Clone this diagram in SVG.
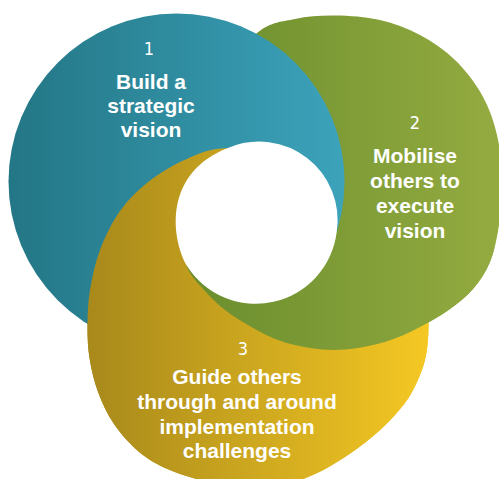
<svg xmlns="http://www.w3.org/2000/svg" xmlns:xlink="http://www.w3.org/1999/xlink" width="499" height="479" viewBox="0 0 499 479">
  <style>
    .label { font-family: "Liberation Sans", Arial, sans-serif; font-weight: bold; font-size: 21px; fill: #ffffff; text-anchor: middle; }
    .num { font-family: "DejaVu Sans Condensed", "DejaVu Sans", sans-serif; font-size: 18px; fill: #ffffff; text-anchor: middle; }
    .blue { fill: url(#fill-blue); }
    .green { fill: url(#fill-green); }
    .gold { fill: url(#fill-gold); }
  </style>
  <defs>
    <linearGradient id="fill-blue" gradientUnits="userSpaceOnUse" x1="8" y1="0" x2="345" y2="0">
      <stop offset="0" stop-color="#237685"/>
      <stop offset="1" stop-color="#3ca3bb"/>
    </linearGradient>
    <linearGradient id="fill-green" gradientUnits="userSpaceOnUse" x1="180" y1="0" x2="500" y2="0">
      <stop offset="0" stop-color="#698d2d"/>
      <stop offset="1" stop-color="#94ab40"/>
    </linearGradient>
    <linearGradient id="fill-gold" gradientUnits="userSpaceOnUse" x1="88" y1="0" x2="430" y2="0">
      <stop offset="0" stop-color="#a8891b"/>
      <stop offset="1" stop-color="#f5c823"/>
    </linearGradient>

    <!-- outer outlines of the three rings -->
    <circle id="ring-blue" cx="176.5" cy="181.5" r="168"/>
    <path id="ring-green" d="M257,33 C272,21.17 282,21.92 295,19 S320.83,15.33 335,15.5 S365.83,16.75 380,20 S407.5,28.33 420,35 S444.67,50 455,60 S475,82.5 482,95 S493.67,120.83 497,135 S501.67,165 502,180 S501,211.33 499,225 S494.33,251.33 490,262 S479.67,281.17 473,289 S458.83,302.67 450,309 S430.83,321.5 420,327 S397.5,338.25 385,342 S357.5,348.5 345,349.5 S321.17,349.58 310,348 S288.33,343.83 278,340 S256.83,330 248,325 S232.17,315.67 225,310 S211.33,298.17 205,291 S192,278 187,267 S176.5,242.83 175,225 S173,182.5 178,160 S191.83,111.17 205,90 S242,44.83 257,33 Z"/>
    <path id="ring-gold" d="M228,148 C246.33,147.08 278,145 300,152 S342.5,174.5 360,190 S394.17,228.33 405,245 S421.08,276.67 425,290 S428.5,313.33 428.5,325 S427.75,348.83 425,360 S417,382.83 412,392 S401.67,407.5 395,415 S380.33,430 372,437 S354.5,450.83 345,457 S325.83,469.17 315,474 S292.5,483.67 280,486 S253.33,489 240,488 S212.5,483.33 200,480 S175.33,472.83 165,468 S146.5,458.33 138,451 S120.67,433.83 114,424 S102.08,403 98,392 S91.25,369.17 89.5,358 S87.42,336.33 87.5,325 S87.92,302.5 90,290 S95,263.17 100,250 S111.67,222.58 120,211 S138.33,189.42 150,180.5 S177,162.92 190,157.5 S209.67,148.92 228,148 Z"/>

    <!-- wedge where gold lies over blue: from the top seam round the left and bottom -->
    <clipPath id="wedge-gold-over">
      <polygon points="256.5,224 -28.5,-536 -600,-536 -600,1000 1100,1000 1008.3,497.6"/>
    </clipPath>
    <!-- wedge where green lies over gold: below the centre -->
    <clipPath id="wedge-green-over">
      <polygon points="256.5,224 1058.5,304 1100,1000 -600,1000 -441.5,639"/>
    </clipPath>
  </defs>

  <!-- base fills: blue over green over gold -->
  <g id="node-3-shape"><use xlink:href="#ring-gold" class="gold"/></g>
  <g id="node-2-shape"><use xlink:href="#ring-green" class="green"/></g>
  <g id="node-1-shape"><use xlink:href="#ring-blue" class="blue"/></g>

  <!-- interlocking: gold passes over blue, green passes over gold -->
  <g id="weave">
    <use xlink:href="#ring-gold" class="gold" clip-path="url(#wedge-gold-over)"/>
    <use xlink:href="#ring-green" class="green" clip-path="url(#wedge-green-over)"/>
  </g>

  <!-- open centre -->
  <g id="centre">
    <path d="M228,148 A78.5,78.5 0 0 1 336.7,232 A81.5,81.5 0 0 1 186.7,265.5 C170,235 165,172 228,148 Z" fill="#ffffff"/>
  </g>

  <g id="node-1">
    <text class="num" x="149" y="55">1</text>
    <text class="label" x="151" y="89">Build a</text>
    <text class="label" x="151" y="113">strategic</text>
    <text class="label" x="151" y="137">vision</text>
  </g>
  <g id="node-2">
    <text class="num" x="415" y="129">2</text>
    <text class="label" x="415" y="163">Mobilise</text>
    <text class="label" x="415" y="188">others to</text>
    <text class="label" x="415" y="213">execute</text>
    <text class="label" x="415" y="238">vision</text>
  </g>
  <g id="node-3">
    <text class="num" x="243" y="355">3</text>
    <text class="label" x="237" y="384">Guide others</text>
    <text class="label" x="237" y="409">through and around</text>
    <text class="label" x="237" y="434">implementation</text>
    <text class="label" x="237" y="458">challenges</text>
  </g>
</svg>
